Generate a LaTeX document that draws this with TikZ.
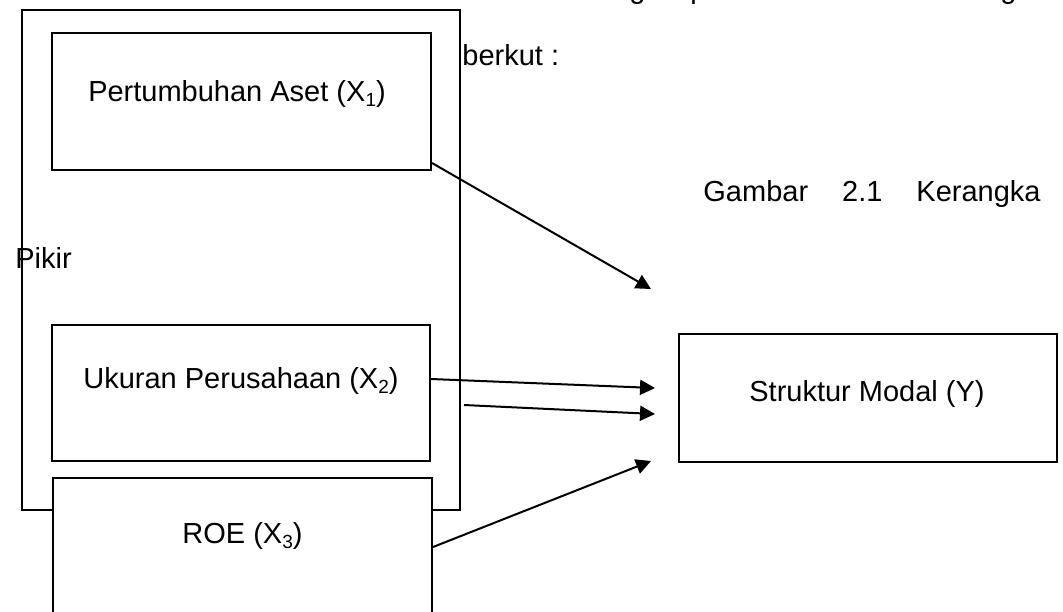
\documentclass[tikz,border=0pt]{standalone}
\usepackage{fontspec}
\setmainfont{Liberation Sans}
\usetikzlibrary{arrows.meta,calc}
\newcommand\lowidx[1]{\raisebox{-0.35ex}{\fontsize{9.5pt}{10pt}\selectfont #1}}
\begin{document}
\begin{tikzpicture}[x=0.5pt,y=-0.5pt,
  box/.style={draw, line width=1pt, inner sep=0pt},
  whitebox/.style={box, fill=white},
  txt/.style={inner sep=0pt, font=\fontsize{14.5pt}{17pt}\selectfont},
  arr/.style={-{Triangle[length=7.5pt,width=7.5pt]}, line width=1pt}]
\useasboundingbox (0,0) rectangle (1063,611);
\clip (0,0) rectangle (1063,611);
% cut-off line at the top (only descenders visible)
\node[txt, anchor=base west] (fg1) at (629,-2) {g};
\node[txt, anchor=base west] (fp)  at (690,-2) {p};
\node[txt, anchor=base west] (fg2) at (1000,-2) {g};
% running text
\node[txt, anchor=base west] (berkut) at (462,65) {berkut :};
\node[txt, anchor=base west] (gambar) at (703,201) {Gambar\hspace{17pt}2.1\hspace{17pt}Kerangka};
\node[txt, anchor=base west] (pikir) at (15,268) {Pikir};
% outer frame
\node[box, minimum width=219pt, minimum height=250pt] (outer) at (241,260) {};
% variable boxes
\node[whitebox, minimum width=189.5pt, minimum height=68.5pt] (x1) at (241.5,101.5) {};
\node[whitebox, minimum width=189pt, minimum height=68pt] (x2) at (241,393) {};
\node[whitebox, minimum width=189.5pt, minimum height=111pt] (x3) at (242.5,589) {};
\node[whitebox, minimum width=189pt, minimum height=64pt] (y) at (868,398) {};
% box texts
\node[txt, anchor=base] (t1) at (237,101) {Pertumbuhan Aset (X\lowidx{1})};
\node[txt, anchor=base] (t2) at (241,388) {Ukuran Perusahaan (X\lowidx{2})};
\node[txt, anchor=base] (t3) at (242.5,543) {ROE (X\lowidx{3})};
\node[txt, anchor=base] (ty) at (867,401) {Struktur Modal (Y)};
% connectors
\coordinate (e1) at (651,289);
\coordinate (e2) at (655,388);
\coordinate (s3) at (464,405);
\coordinate (e3) at (655,414);
\coordinate (e4) at (651,461);
\draw[arr] ($(x1.south east)+(0,-8)$) -- (e1);
\draw[arr] ($(x2.east)+(0,-14)$) -- (e2);
\draw[arr] (s3) -- (e3);
\draw[arr] ($(x3.east)+(0,-42)$) -- (e4);
\end{tikzpicture}
\end{document}
